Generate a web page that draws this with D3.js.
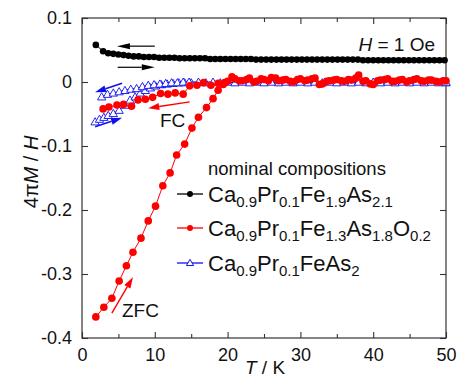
<!DOCTYPE html>
<html><head><meta charset="utf-8">
<script src="https://cdn.jsdelivr.net/npm/d3@7"></script>
<style>body{margin:0;background:#fff}svg{display:block}text{font-family:"Liberation Sans",Arial,sans-serif}</style>
</head><body>
<svg id="c" width="457" height="378"></svg>
<script>
// ---- data ----
const xTicks = [0,10,20,30,40,50];
const yTicks = [0.1,0,-0.1,-0.2,-0.3,-0.4];
const yTickLabels = ["0.1","0","-0.1","-0.2","-0.3","-0.4"];

const blackT = [1.9,2.9,3.6,4.3,5.0,5.7,6.4,7.1,7.8,8.5,9.2,9.9,10.6,11.3,12.0,12.7,13.4,14.1,14.8,15.5,16.2,16.9,17.6,18.3,19.0,19.7,20.4,21.1,21.8,22.5,23.2,23.9,24.6,25.3,26.0,26.7,27.4,28.1,28.8,29.5,30.2,30.9,31.6,32.3,33.0,33.7,34.4,35.1,35.8,36.5,37.2,37.9,38.6,39.3,40.0,40.7,41.4,42.1,42.8,43.5,44.2,44.9,45.6,46.3,47.0,47.7,48.4,49.1,49.8];
const blackV = [0.058,0.048,0.045,0.044,0.043,0.042,0.041,0.040,0.040,0.039,0.039,0.039,0.038,0.038,0.038,0.038,0.037,0.037,0.037,0.037,0.037,0.037,0.036,0.036,0.036,0.036,0.036,0.036,0.036,0.036,0.036,0.035,0.035,0.035,0.035,0.035,0.035,0.035,0.035,0.035,0.035,0.035,0.035,0.035,0.035,0.035,0.035,0.035,0.035,0.035,0.035,0.035,0.034,0.034,0.034,0.034,0.034,0.034,0.034,0.034,0.034,0.034,0.034,0.034,0.034,0.034,0.034,0.034,0.034];

const redZfcT = [1.9,3.0,4.1,5.1,6.1,7.0,8.1,9.1,10.1,11.1,12.1,13.0,14.1,15.1,16.0,17.1,18.0,18.7,19.4,20,21,22,23,24,25,26,27,28,29,30,31,32,33,34,35,36,37,38,39,40,41,42,43,44,45,46,47,48,49,50];
const redZfcV = [-0.367,-0.352,-0.338,-0.311,-0.287,-0.266,-0.244,-0.217,-0.194,-0.162,-0.142,-0.114,-0.097,-0.072,-0.055,-0.040,-0.026,-0.013,-0.004,0.001,0.005,0.002,0.006,0.001,0.004,0.007,0.002,0.004,0.000,0.005,0.003,0.006,-0.003,0.002,0.004,0.001,0.003,0.011,0.002,-0.004,0.003,0.005,0.001,0.004,0.002,0.005,0.001,0.003,0.000,0.002];

const redFcT = [2.9,3.7,4.8,5.7,6.8,7.7,8.7,9.7,10.8,11.8,12.8,13.9,14.8,15.8,16.7,17.7,18.7,19.6,20.6,21.6,22.6,23.6,24.6,25.6,26.6,27.6,28.6,29.6,30.6,31.6,32.6,33.6,34.6,35.6,36.6,37.6,38.6,39.6,40.6,41.6,42.6,43.6,44.6,45.6,46.6,47.6,48.6,49.6];
const redFcV = [-0.042,-0.039,-0.036,-0.035,-0.038,-0.028,-0.027,-0.024,-0.018,-0.019,-0.017,-0.019,-0.006,-0.005,-0.001,-0.005,-0.002,-0.001,0.008,0.002,0.004,0.000,0.005,0.002,0.006,0.003,0.001,0.004,0.002,0.005,-0.004,0.001,0.003,0.002,0.004,0.006,0.001,-0.003,0.002,0.004,0.001,0.003,0.000,0.004,0.002,0.003,0.001,0.002];

const blueZfcT = [1.8,2.4,3.0,3.6,4.3,5.1,5.9,6.6,7.3,8.0,8.7,9.4,10.1,10.9,11.7,12.5,13.3,14.1,15,17,19,21,23,25,27,29,31,33,35,37,39,41,43,45,47,49,50];
const blueZfcV = [-0.062,-0.058,-0.055,-0.052,-0.049,-0.044,-0.036,-0.028,-0.023,-0.017,-0.013,-0.009,-0.006,-0.004,-0.003,-0.002,-0.001,-0.001,-0.001,-0.001,-0.001,-0.001,-0.001,-0.001,-0.001,-0.001,-0.001,-0.001,-0.001,-0.001,-0.001,-0.001,-0.001,-0.001,-0.001,-0.001,-0.001];
const blueFcT = [2.7,3.5,4.3,5.1,5.9,6.7,7.5,8.3,9.1,9.9,10.7,11.5,12.3,13.1,13.9,14.7,16,18,20,22,24,26,28,30,32,34,36,38,40,42,44,46,48,50];
const blueFcV = [-0.023,-0.019,-0.017,-0.015,-0.013,-0.011,-0.010,-0.007,-0.005,-0.004,-0.003,-0.002,-0.001,-0.001,0.000,0.000,0.000,0.000,0.000,0.000,0.000,0.000,0.000,0.000,0.000,0.000,0.000,0.000,0.000,0.000,0.000,0.000,0.000,0.000];

// annotation arrows in data coordinates [T0, v0, T1, v1] (tail -> head)
const arrowsBlack = [[10.0,0.056,4.8,0.056],[4.9,0.023,10.0,0.023]];
const arrowsBlue = [[5.5,-0.002,1.8,-0.016],[1.8,-0.070,5.5,-0.056]];
const arrowsRed = [[14.8,-0.031,9.1,-0.041],[4.1,-0.361,7.0,-0.305]];

const legendNames = [
  [["Ca",0],["0.9",1],["Pr",0],["0.1",1],["Fe",0],["1.9",1],["As",0],["2.1",1]],
  [["Ca",0],["0.9",1],["Pr",0],["0.1",1],["Fe",0],["1.3",1],["As",0],["1.8",1],["O",0],["0.2",1]],
  [["Ca",0],["0.9",1],["Pr",0],["0.1",1],["FeAs",0],["2",1]]
];

// ---- chart ----
const svg = d3.select("#c");
const x = d3.scaleLinear().domain([0,50]).range([82,446]);
const y = d3.scaleLinear().domain([-0.4,0.1]).range([338,18]);
const RED = "#ff0000", BLUE = "#1010ee", BLK = "#000";
const AX = "#333";

// frame
svg.append("rect").attr("x",82).attr("y",18).attr("width",364).attr("height",320)
  .attr("fill","none").attr("stroke",AX).attr("stroke-width",1.2);

const xMinor = [5,15,25,35,45];
function tickG(g){ g.select(".domain").remove(); g.selectAll("line").attr("stroke",AX).attr("stroke-width",1.1); }
svg.append("g").attr("transform","translate(0,338)")
  .call(d3.axisBottom(x).tickValues(xTicks).tickSize(-6).tickPadding(9).tickFormat(d3.format("d")))
  .call(tickG).call(g=>g.selectAll("text").attr("font-size",18).attr("fill","#111").attr("dy","0.75em"));
svg.append("g").attr("transform","translate(0,338)")
  .call(d3.axisBottom(x).tickValues(xMinor).tickSize(-4).tickFormat(""))
  .call(tickG);
svg.append("g").attr("transform","translate(0,18)")
  .call(d3.axisTop(x).tickValues(xTicks).tickSize(-6).tickFormat(""))
  .call(tickG);
svg.append("g").attr("transform","translate(0,18)")
  .call(d3.axisTop(x).tickValues(xMinor).tickSize(-4).tickFormat(""))
  .call(tickG);
svg.append("g").attr("transform","translate(82,0)")
  .call(d3.axisLeft(y).tickValues(yTicks).tickSize(-6).tickPadding(10).tickFormat((d,i)=>yTickLabels[i]))
  .call(tickG).call(g=>g.selectAll("text").attr("font-size",18).attr("fill","#111"));
svg.append("g").attr("transform","translate(446,0)")
  .call(d3.axisRight(y).tickValues(yTicks).tickSize(-6).tickFormat(""))
  .call(tickG);

// axis labels
const xl = svg.append("text").attr("x",265).attr("y",374).attr("text-anchor","middle").attr("font-size",19).attr("fill","#111");
xl.append("tspan").attr("font-style","italic").text("T");
xl.append("tspan").text(" / K");
const yl = svg.append("text").attr("transform","translate(38,172) rotate(-90)").attr("text-anchor","middle").attr("font-size",20).attr("fill","#111");
yl.append("tspan").text("4\u03C0");
yl.append("tspan").attr("font-style","italic").text("M");
yl.append("tspan").text(" / ");
yl.append("tspan").attr("font-style","italic").text("H");

const line = d3.line().x(d=>x(d[0])).y(d=>y(d[1]));
const zip = (a,b)=>a.map((t,i)=>[t,b[i]]);
const tri = d3.symbol().type(d3.symbolTriangle).size(30);

function dots(T,V,color,r){
  const data = zip(T,V);
  svg.append("path").datum(data).attr("d",line).attr("fill","none").attr("stroke",color).attr("stroke-width",1);
  svg.append("g").selectAll("circle").data(data).join("circle")
    .attr("cx",d=>x(d[0])).attr("cy",d=>y(d[1])).attr("r",r).attr("fill",color);
}
function tris(T,V){
  const data = zip(T,V);
  svg.append("path").datum(data).attr("d",line).attr("fill","none").attr("stroke",BLUE).attr("stroke-width",1);
  svg.append("g").selectAll("path").data(data).join("path")
    .attr("d",tri).attr("transform",d=>`translate(${x(d[0])},${y(d[1])+0.8})`)
    .attr("fill","#fff").attr("stroke",BLUE).attr("stroke-width",0.9);
}
tris(blueZfcT,blueZfcV);
tris(blueFcT,blueFcV);
dots(redZfcT,redZfcV,RED,3.8);
dots(redFcT,redFcV,RED,3.8);
dots(blackT,blackV,BLK,3.3);

// arrows
function arrows(list,color,w,hl,hw){
  list.forEach(a=>{
    const x0=x(a[0]),y0=y(a[1]),x1=x(a[2]),y1=y(a[3]);
    const ang=Math.atan2(y1-y0,x1-x0);
    const bx=x1-hl*Math.cos(ang), by=y1-hl*Math.sin(ang);
    svg.append("line").attr("x1",x0).attr("y1",y0).attr("x2",bx).attr("y2",by).attr("stroke",color).attr("stroke-width",w);
    const px=-Math.sin(ang)*hw, py=Math.cos(ang)*hw;
    svg.append("path").attr("d",`M${x1},${y1}L${bx+px},${by+py}L${bx-px},${by-py}Z`).attr("fill",color);
  });
}
arrows(arrowsBlack,BLK,1.2,13,3);
arrows(arrowsBlue,BLUE,1.6,11,3.5);
arrows(arrowsRed,RED,1.4,11,3.5);

// annotations
svg.append("text").attr("x",160).attr("y",127).attr("font-size",19).attr("fill","#111").text("FC");
svg.append("text").attr("x",122).attr("y",317).attr("font-size",19).attr("fill","#111").text("ZFC");
const ht = svg.append("text").attr("x",435).attr("y",51).attr("text-anchor","end").attr("font-size",19).attr("fill","#111");
ht.append("tspan").attr("font-style","italic").text("H");
ht.append("tspan").text(" = 1 Oe");

// legend
svg.append("text").attr("x",208).attr("y",175).attr("font-size",18.5).attr("fill","#111").text("nominal compositions");
const legColors=[BLK,RED,BLUE], legY=[194,228,263];
legendNames.forEach((parts,i)=>{
  const ly=legY[i];
  svg.append("line").attr("x1",177).attr("x2",203).attr("y1",ly).attr("y2",ly).attr("stroke",legColors[i]).attr("stroke-width",1.3);
  if(i<2) svg.append("circle").attr("cx",190).attr("cy",ly).attr("r",3).attr("fill",legColors[i]);
  else svg.append("path").attr("d",d3.symbol().type(d3.symbolTriangle).size(22)).attr("transform",`translate(190,${ly+0.5})`).attr("fill","#fff").attr("stroke",BLUE);
  const t=svg.append("text").attr("x",208).attr("y",ly+8).attr("font-size",22).attr("fill","#111");
  let sub=false;
  parts.forEach(p=>{
    const s=t.append("tspan").text(p[0]);
    if(p[1]&&!sub){ s.attr("font-size",15).attr("dy",5); sub=true; }
    else if(!p[1]&&sub){ s.attr("dy",-5); sub=false; }
    else if(p[1]) s.attr("font-size",15);
  });
});
</script>
</body></html>
